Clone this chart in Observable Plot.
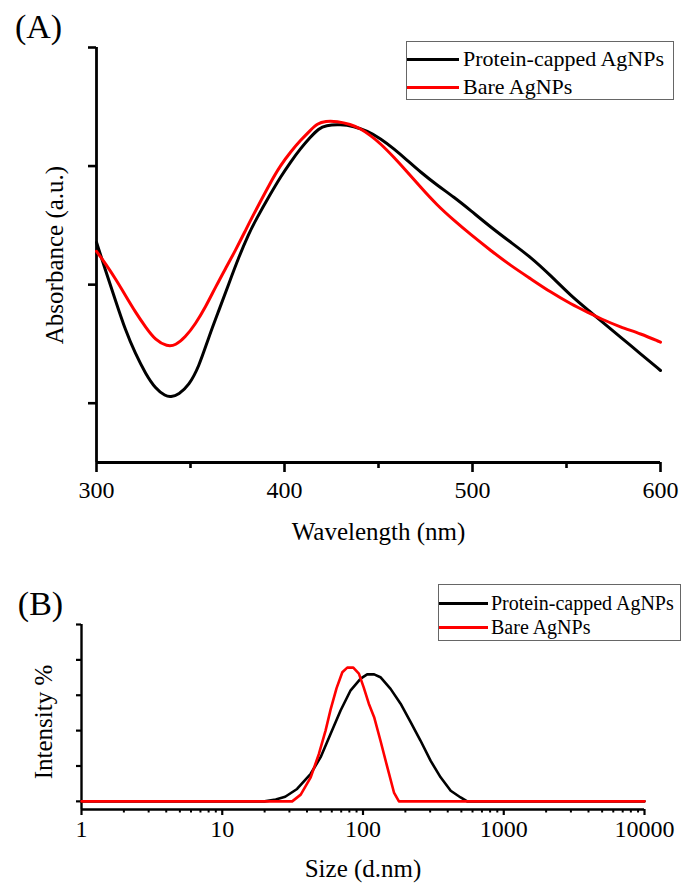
<!DOCTYPE html>
<html>
<head>
<meta charset="utf-8">
<script src="https://cdn.jsdelivr.net/npm/d3@7"></script>
<script src="https://cdn.jsdelivr.net/npm/@observablehq/plot@0.6"></script>
<style>
  body { margin: 0; background: #fff; }
  #fig { position: relative; width: 681px; height: 886px; font-family: "Liberation Serif", "Times New Roman", serif; color: #000; }
  #pa, #pb { position: absolute; left: 0; }
  #pa { top: 0; }
  #pb { top: 555px; }
  .leg { position: absolute; border: 1px solid #666; box-sizing: border-box; background: #fff; }
  .sw { position: absolute; height: 3px; }
  .lt { position: absolute; line-height: 1; white-space: nowrap; transform: translateY(-50%); }
</style>
</head>
<body>
<div id="fig">
  <div id="pa"></div>
  <div id="pb"></div>
  <div class="leg" style="left:406px;top:41px;width:268px;height:59px;">
    <div class="sw" style="left:0;top:15.5px;width:52px;background:#000;"></div>
    <div class="lt" style="left:56px;top:17px;font-size:22px;">Protein-capped AgNPs</div>
    <div class="sw" style="left:0;top:43.5px;width:52px;background:#f00;"></div>
    <div class="lt" style="left:56px;top:45px;font-size:22px;">Bare AgNPs</div>
  </div>
  <div class="leg" style="left:438px;top:584px;width:243px;height:57px;">
    <div class="sw" style="left:0;top:16.5px;width:49px;background:#000;"></div>
    <div class="lt" style="left:52px;top:18px;font-size:20px;">Protein-capped AgNPs</div>
    <div class="sw" style="left:0;top:40.5px;width:49px;background:#f00;"></div>
    <div class="lt" style="left:52px;top:42px;font-size:20px;">Bare AgNPs</div>
  </div>
</div>
<script>
// ---------- Panel A: UV-vis absorbance ----------
const wlProtein = [300, 304.8, 310.1, 315.4, 320.7, 326.1, 331.4, 336.7, 339.4, 343.8, 349.1, 354.4, 359.7, 365.1, 370.4, 375.7, 381.0, 384.6, 392.6, 397.9, 403.2, 408.5, 413.8, 418.2, 421.8, 429.8, 436.9, 444.0, 451.1, 458.1, 465.3, 472.3, 481.2, 490.1, 498.9, 509.6, 520.2, 530.9, 541.5, 552.1, 562.8, 568.1, 578.7, 589.4, 600];
const absProtein = [2.357, 2.120, 1.867, 1.614, 1.417, 1.249, 1.122, 1.060, 1.051, 1.074, 1.150, 1.304, 1.557, 1.783, 2.008, 2.233, 2.430, 2.542, 2.767, 2.908, 3.034, 3.147, 3.245, 3.316, 3.344, 3.352, 3.335, 3.296, 3.232, 3.147, 3.049, 2.950, 2.838, 2.739, 2.627, 2.486, 2.359, 2.233, 2.078, 1.909, 1.768, 1.698, 1.557, 1.417, 1.276];
const wlBare = [300, 304.8, 310.1, 315.4, 320.7, 326.1, 331.4, 337.6, 342.0, 347.3, 352.7, 358.0, 363.3, 368.6, 373.9, 379.3, 381.9, 392.6, 397.9, 403.2, 408.5, 413.8, 417.4, 421.8, 428.0, 435.1, 440.4, 445.7, 451.1, 458.1, 465.3, 472.3, 481.2, 490.1, 498.9, 509.6, 520.2, 530.9, 541.5, 552.1, 562.8, 568.1, 578.7, 589.4, 600];
const absBare = [2.281, 2.177, 2.050, 1.909, 1.768, 1.642, 1.530, 1.479, 1.487, 1.557, 1.670, 1.811, 1.979, 2.135, 2.289, 2.458, 2.542, 2.865, 3.006, 3.119, 3.217, 3.302, 3.358, 3.380, 3.378, 3.352, 3.316, 3.259, 3.189, 3.076, 2.950, 2.823, 2.669, 2.542, 2.424, 2.289, 2.162, 2.050, 1.937, 1.839, 1.755, 1.713, 1.642, 1.586, 1.515];
const xTicksA = [300, 400, 500, 600];
const xMinorA = [350, 450, 550];
const yTicksA = [1, 2, 3, 4];
const xDomainA = [300, 600];
const yDomainA = [0.5, 4];

// ---------- Panel B: DLS size distribution ----------
const sizeProtein = [1, 20, 24, 28, 34, 42.5, 50, 58.9, 69.3, 81.7, 96.2, 107, 120, 133, 157, 185, 218, 256, 302, 356, 420, 494, 550, 10000];
const intProtein = [0, 0, 0.05, 0.13, 0.35, 0.78, 1.25, 1.91, 2.57, 3.14, 3.47, 3.59, 3.59, 3.51, 3.18, 2.76, 2.24, 1.72, 1.15, 0.68, 0.30, 0.11, 0, 0];
const sizeBare = [1, 31.4, 36.1, 42.5, 48.6, 54.2, 58.9, 64.9, 71.3, 77.3, 85.3, 93.5, 101, 110, 120, 133, 149, 166, 180, 10000];
const intBare = [0, 0, 0.19, 0.68, 1.34, 2.0, 2.6, 3.2, 3.65, 3.78, 3.78, 3.61, 3.23, 2.76, 2.38, 1.72, 0.96, 0.25, 0, 0];
const xTicksB = [1, 10, 100, 1000, 10000];
const xMinorB = [1, 10, 100, 1000].flatMap(d => [2, 3, 4, 5, 6, 7, 8, 9].map(m => m * d));
const yTicksB = [0, 1, 2, 3, 4, 5];
const xDomainB = [1, 10000];
const yDomainB = [-0.23, 5];

const labels = {
  panelA: "(A)", panelB: "(B)",
  xA: "Wavelength (nm)", yA: "Absorbance (a.u.)",
  xB: "Size (d.nm)", yB: "Intensity %"
};

const font = '"Liberation Serif", "Times New Roman", serif';
const zip = (xs, ys) => xs.map((x, i) => ({x, y: ys[i]}));
const lbl = {text: d => d, textAnchor: "middle", lineAnchor: "middle", fill: "#000"};

const plotA = Plot.plot({
  width: 681, height: 555,
  marginLeft: 96, marginRight: 21, marginTop: 47, marginBottom: 93,
  style: {fontFamily: font, color: "#000", background: "transparent", overflow: "visible"},
  x: {domain: xDomainA},
  y: {domain: yDomainA},
  marks: [
    Plot.axisX({ticks: xTicksA, tickSize: 10, tickPadding: 8, strokeWidth: 2.6, fontSize: 24, label: null}),
    Plot.axisX({ticks: xMinorA, tickSize: 6, strokeWidth: 2.6, tickFormat: () => "", label: null}),
    Plot.axisY({ticks: yTicksA, tickSize: 8, strokeWidth: 2.6, tickFormat: () => "", label: null}),
    Plot.ruleY([yDomainA[0]], {stroke: "#000", strokeWidth: 2.8}),
    Plot.ruleX([xDomainA[0]], {stroke: "#000", strokeWidth: 2.8}),
    Plot.line(zip(wlProtein, absProtein), {x: "x", y: "y", stroke: "#000", strokeWidth: 3, curve: "basis"}),
    Plot.line(zip(wlBare, absBare), {x: "x", y: "y", stroke: "#f00", strokeWidth: 3, curve: "basis"}),
    Plot.text([labels.xA], {...lbl, frameAnchor: "bottom", dy: 69, fontSize: 25}),
    Plot.text([labels.yA], {...lbl, frameAnchor: "left", dx: -42, rotate: -90, fontSize: 25}),
    Plot.text([labels.panelA], {...lbl, frameAnchor: "top-left", dx: -58, dy: -20, fontSize: 34})
  ]
});
document.getElementById("pa").appendChild(plotA);

const plotB = Plot.plot({
  width: 681, height: 331,
  marginLeft: 81, marginRight: 37, marginTop: 69, marginBottom: 77,
  style: {fontFamily: font, color: "#000", background: "transparent", overflow: "visible"},
  x: {type: "log", domain: xDomainB},
  y: {domain: yDomainB},
  marks: [
    Plot.axisX({ticks: xTicksB, tickSize: 6, tickPadding: 4, strokeWidth: 2.2, fontSize: 24, tickFormat: d => String(d), label: null}),
    Plot.axisX({ticks: xMinorB, tickSize: 3.5, strokeWidth: 2, tickFormat: () => "", label: null}),
    Plot.axisY({ticks: yTicksB, tickSize: 5, strokeWidth: 2.2, tickFormat: () => "", label: null}),
    Plot.ruleY([yDomainB[0]], {stroke: "#000", strokeWidth: 2.4}),
    Plot.ruleX([xDomainB[0]], {stroke: "#000", strokeWidth: 2.4}),
    Plot.line(zip(sizeProtein, intProtein), {x: "x", y: "y", stroke: "#000", strokeWidth: 2.6}),
    Plot.line(zip(sizeBare, intBare), {x: "x", y: "y", stroke: "#f00", strokeWidth: 2.6}),
    Plot.text([labels.xB], {...lbl, frameAnchor: "bottom", dy: 59, fontSize: 25}),
    Plot.text([labels.yB], {...lbl, frameAnchor: "left", dx: -38, dy: 5, rotate: -90, fontSize: 25}),
    Plot.text([labels.panelB], {...lbl, frameAnchor: "top-left", dx: -41, dy: -20, fontSize: 34})
  ]
});
document.getElementById("pb").appendChild(plotB);
</script>
</body>
</html>
